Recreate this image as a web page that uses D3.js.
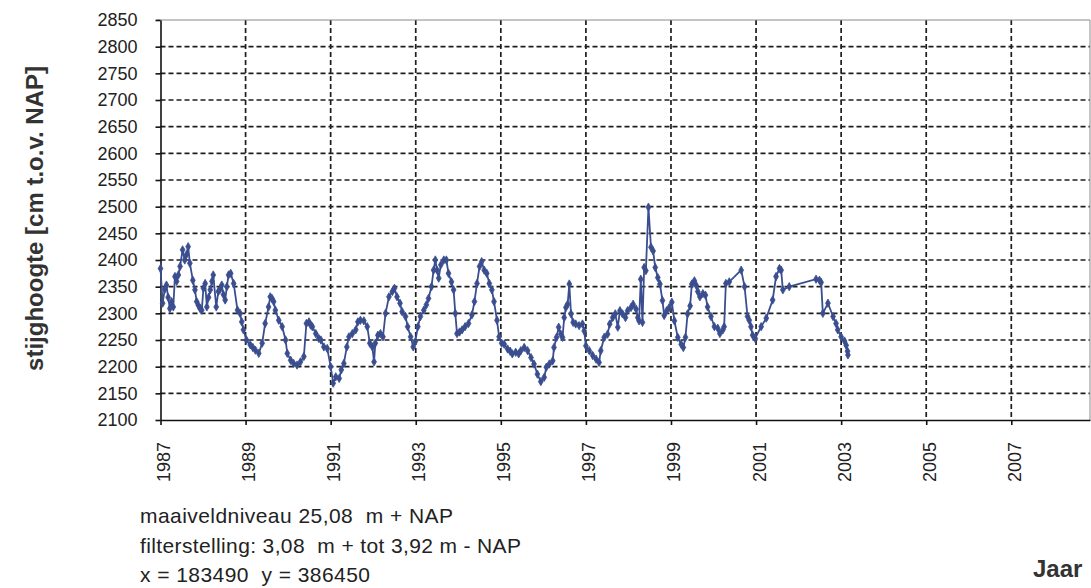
<!DOCTYPE html>
<html>
<head>
<meta charset="utf-8">
<script src="https://cdn.jsdelivr.net/npm/d3@7"></script>
<style>
    body { margin: 0; background: #fff; }
    svg text { font-family: "Liberation Sans", Arial, sans-serif; fill: #222; }
    .axis path, .axis line { stroke: #111; stroke-width: 1.6; }
    .axis text { font-size: 18px; }
    .grid line { stroke: #1e1e1e; stroke-width: 1.7; stroke-dasharray: 5,3; }
</style>
</head>
<body>
<div id="vis"></div>
<script>
// Stijghoogte time series

/* *************************** Data ***************************** */

// Measurement dates as decimal years
var dates = [
    1987.00, 1987.05, 1987.10, 1987.14, 1987.18, 1987.22, 1987.26, 1987.30, 1987.34, 1987.38,
    1987.42, 1987.46, 1987.52, 1987.57, 1987.61, 1987.65, 1987.69, 1987.76, 1987.81, 1987.85,
    1987.89, 1987.93, 1987.97, 1988.01, 1988.05, 1988.09, 1988.13, 1988.17, 1988.21, 1988.24,
    1988.31, 1988.36, 1988.40, 1988.44, 1988.48, 1988.52, 1988.56, 1988.60, 1988.65, 1988.72,
    1988.81, 1988.87, 1988.91, 1988.95, 1989.02, 1989.11, 1989.17, 1989.23, 1989.31, 1989.39,
    1989.46, 1989.54, 1989.58, 1989.62, 1989.66, 1989.70, 1989.78, 1989.86, 1989.94, 1989.98,
    1990.06, 1990.13, 1990.21, 1990.29, 1990.37, 1990.43, 1990.49, 1990.53, 1990.57, 1990.65,
    1990.72, 1990.77, 1990.84, 1990.92, 1991.00, 1991.06, 1991.12, 1991.20, 1991.25, 1991.31,
    1991.38, 1991.43, 1991.51, 1991.59, 1991.64, 1991.70, 1991.78, 1991.86, 1991.92, 1991.98,
    1992.02, 1992.05, 1992.11, 1992.17, 1992.23, 1992.29, 1992.37, 1992.45, 1992.50, 1992.56,
    1992.63, 1992.68, 1992.76, 1992.81, 1992.88, 1992.94, 1992.99, 1993.05, 1993.11, 1993.19,
    1993.25, 1993.30, 1993.37, 1993.42, 1993.46, 1993.50, 1993.54, 1993.59, 1993.66, 1993.72,
    1993.77, 1993.84, 1993.89, 1993.93, 1993.97, 1994.03, 1994.09, 1994.16, 1994.24, 1994.32,
    1994.38, 1994.44, 1994.50, 1994.55, 1994.61, 1994.67, 1994.73, 1994.79, 1994.84, 1994.91,
    1994.96, 1995.02, 1995.08, 1995.16, 1995.22, 1995.27, 1995.35, 1995.42, 1995.47, 1995.55,
    1995.63, 1995.71, 1995.78, 1995.86, 1995.94, 1996.02, 1996.07, 1996.14, 1996.22, 1996.25,
    1996.31, 1996.36, 1996.41, 1996.45, 1996.49, 1996.53, 1996.57, 1996.61, 1996.65, 1996.70,
    1996.76, 1996.84, 1996.92, 1996.96, 1997.00, 1997.08, 1997.16, 1997.24, 1997.31, 1997.35,
    1997.43, 1997.51, 1997.56, 1997.63, 1997.69, 1997.75, 1997.80, 1997.86, 1997.93, 1997.98,
    1998.06, 1998.11, 1998.18, 1998.22, 1998.25, 1998.29, 1998.33, 1998.37, 1998.41, 1998.47,
    1998.53, 1998.58, 1998.63, 1998.69, 1998.74, 1998.80, 1998.84, 1998.90, 1998.96, 1999.02,
    1999.08, 1999.16, 1999.24, 1999.29, 1999.34, 1999.39, 1999.45, 1999.49, 1999.55, 1999.59,
    1999.63, 1999.68, 1999.75, 1999.81, 1999.86, 1999.94, 2000.02, 2000.10, 2000.15, 2000.22,
    2000.25, 2000.29, 2000.37, 2000.65, 2000.73, 2000.80, 2000.84, 2000.88, 2000.92, 2000.98,
    2001.12, 2001.24, 2001.39, 2001.47, 2001.55, 2001.59, 2001.63, 2001.78, 2002.41, 2002.49,
    2002.53, 2002.57, 2002.69, 2002.81, 2002.88, 2002.92, 2003.00, 2003.08, 2003.12, 2003.15,
    2003.16
];

// Stijghoogte in cm t.o.v. NAP, one per date
var levels = [
    2384, 2319, 2345, 2353, 2330, 2309, 2322, 2312, 2369, 2360,
    2372, 2388, 2419, 2400, 2410, 2425, 2394, 2362, 2344, 2322,
    2315, 2309, 2306, 2347, 2356, 2312, 2330, 2344, 2360, 2372,
    2312, 2341, 2345, 2353, 2335, 2325, 2350, 2372, 2375, 2356,
    2306, 2300, 2284, 2269, 2250, 2241, 2236, 2231, 2225, 2244,
    2281, 2312, 2331, 2328, 2322, 2306, 2287, 2275, 2250, 2225,
    2212, 2206, 2203, 2209, 2219, 2281, 2284, 2278, 2275, 2262,
    2253, 2250, 2237, 2234, 2200, 2169, 2181, 2178, 2194, 2206,
    2237, 2256, 2262, 2269, 2284, 2287, 2286, 2275, 2244, 2237,
    2209, 2244, 2259, 2262, 2256, 2300, 2331, 2341, 2347, 2331,
    2319, 2303, 2294, 2275, 2256, 2237, 2247, 2275, 2294, 2306,
    2316, 2328, 2350, 2381, 2400, 2381, 2366, 2391, 2400, 2400,
    2375, 2359, 2344, 2300, 2262, 2265, 2269, 2275, 2281, 2297,
    2322, 2356, 2388, 2397, 2381, 2375, 2356, 2344, 2322, 2287,
    2256, 2244, 2242, 2233, 2229, 2224, 2227, 2224, 2230, 2236,
    2230, 2217, 2205, 2186, 2172, 2180, 2199, 2205, 2211, 2236,
    2255, 2274, 2261, 2255, 2292, 2311, 2317, 2355, 2299, 2283,
    2280, 2277, 2280, 2267, 2239, 2230, 2221, 2214, 2208, 2230,
    2255, 2261, 2280, 2292, 2299, 2274, 2305, 2299, 2292, 2305,
    2311, 2317, 2308, 2292, 2286, 2364, 2283, 2386, 2380, 2499,
    2424, 2417, 2386, 2367, 2355, 2324, 2296, 2305, 2311, 2321,
    2286, 2255, 2242, 2236, 2255, 2299, 2314, 2355, 2361, 2353,
    2341, 2331, 2337, 2334, 2312, 2294, 2275, 2272, 2262, 2269,
    2275, 2356, 2359, 2381, 2350, 2294, 2287, 2275, 2259, 2253,
    2275, 2291, 2325, 2369, 2384, 2381, 2344, 2350, 2364, 2362,
    2358, 2300, 2319, 2294, 2281, 2269, 2256, 2248, 2240, 2229,
    2222
];

// Tick values
var yearTicks = [1987, 1989, 1991, 1993, 1995, 1997, 1999, 2001, 2003, 2005, 2007];
var levelTicks = [2100, 2150, 2200, 2250, 2300, 2350, 2400, 2450, 2500, 2550, 2600, 2650, 2700, 2750, 2800, 2850];

// Text under the chart
var infoLines = [
    'maaiveldniveau 25,08  m + NAP',
    'filterstelling: 3,08  m + tot 3,92 m - NAP',
    'x = 183490  y = 386450'
];
var infoWidths = [313, 381, 230];

/* *************************** Settings ***************************** */

var width = 1091;
var height = 588;

var margin = {
    left: 160.5,
    top: 20,
    right: 1,
    bottom: 168
};

var drawWidth = width - margin.left - margin.right;
var drawHeight = height - margin.top - margin.bottom;

var lineColor = '#3a4e8f';

/* *************************** Static elements ***************************** */

var svg = d3.select('#vis')
    .append('svg')
    .attr('width', width)
    .attr('height', height);

var g = svg.append('g')
    .attr('transform', 'translate(' + margin.left + ',' + margin.top + ')');

// Scales: x end chosen so the plot border lands at the image edge
var xScale = d3.scaleLinear()
    .domain([1987, 2008.85])
    .range([0, drawWidth]);

var yScale = d3.scaleLinear()
    .domain([2100, 2850])
    .range([drawHeight, 0]);

// Dashed grid lines
g.append('g')
    .attr('class', 'grid')
    .selectAll('line')
    .data(levelTicks.filter(function(d) { return d > 2100 && d < 2850; }))
    .enter().append('line')
    .attr('x1', 0)
    .attr('x2', drawWidth)
    .attr('y1', function(d) { return yScale(d); })
    .attr('y2', function(d) { return yScale(d); });

g.append('g')
    .attr('class', 'grid')
    .selectAll('line')
    .data(yearTicks.filter(function(d) { return d > 1987; }))
    .enter().append('line')
    .attr('x1', function(d) { return xScale(d); })
    .attr('x2', function(d) { return xScale(d); })
    .attr('y1', 0)
    .attr('y2', drawHeight);

// Thin grey border on top and right
g.append('path')
    .attr('d', 'M-4,0H' + drawWidth + 'V' + drawHeight)
    .attr('fill', 'none')
    .attr('stroke', '#8a8a8a')
    .attr('stroke-width', 1);

/* *************************** Axes ***************************** */

var yAxis = d3.axisLeft(yScale)
    .tickValues(levelTicks)
    .tickSizeInner(5)
    .tickSizeOuter(0)
    .tickPadding(18)
    .tickFormat(d3.format('d'));

g.append('g')
    .attr('class', 'axis')
    .call(yAxis);

var xAxis = d3.axisBottom(xScale)
    .tickValues(yearTicks)
    .tickSizeInner(5)
    .tickSizeOuter(0)
    .tickFormat(d3.format('d'));

var xAxisG = g.append('g')
    .attr('class', 'axis')
    .attr('transform', 'translate(0,' + drawHeight + ')')
    .call(xAxis);

// Rotate year labels so they read bottom to top
xAxisG.selectAll('text')
    .attr('transform', 'rotate(-90)')
    .attr('x', -22)
    .attr('y', 9)
    .attr('dy', 0)
    .style('text-anchor', 'end');

/* *************************** Series ***************************** */

var points = dates.map(function(d, i) {
    return { year: d, level: levels[i] };
});

var line = d3.line()
    .x(function(d) { return xScale(d.year); })
    .y(function(d) { return yScale(d.level); });

g.append('path')
    .datum(points)
    .attr('d', line)
    .attr('fill', 'none')
    .attr('stroke', lineColor)
    .attr('stroke-width', 1.8);

var diamond = d3.symbol().type(d3.symbolDiamond).size(20);

g.selectAll('.marker')
    .data(points)
    .enter().append('path')
    .attr('class', 'marker')
    .attr('d', diamond)
    .attr('transform', function(d) {
        return 'translate(' + xScale(d.year) + ',' + yScale(d.level) + ')';
    })
    .attr('fill', lineColor)
    .attr('stroke', lineColor)
    .attr('stroke-width', 0.8);

/* *************************** Titles and notes ***************************** */

svg.append('text')
    .attr('transform', 'translate(43,218.5) rotate(-90)')
    .attr('text-anchor', 'middle')
    .style('font-size', '24px')
    .style('font-weight', 'bold')
    .style('fill', '#333')
    .text('stijghoogte [cm t.o.v. NAP]');

svg.append('text')
    .attr('x', 1033)
    .attr('y', 577)
    .style('font-size', '24px')
    .style('font-weight', 'bold')
    .style('fill', '#333')
    .text('Jaar');

svg.selectAll('.info')
    .data(infoLines)
    .enter().append('text')
    .attr('class', 'info')
    .attr('x', 140)
    .attr('y', function(d, i) { return 523 + i * 29.7; })
    .attr('textLength', function(d, i) { return infoWidths[i]; })
    .attr('lengthAdjust', 'spacing')
    .style('font-size', '21px')
    .style('white-space', 'pre')
    .text(function(d) { return d; });
</script>
</body>
</html>
